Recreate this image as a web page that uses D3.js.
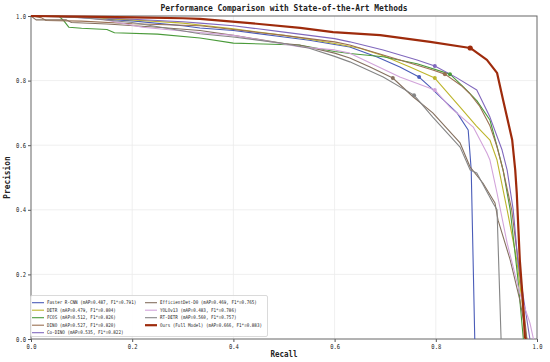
<!DOCTYPE html>
<html>
<head>
<meta charset="utf-8">
<title>PR curves</title>
<script src="https://cdn.jsdelivr.net/npm/d3@7"></script>
<style>
  body { margin: 0; background: #fff; }
  text { font-family: "DejaVu Sans Mono", monospace; fill: #222; }
</style>
</head>
<body>
<div id="chart"></div>
<script>
// method names, legend order
var methods = ["Faster R-CNN", "DETR", "FCOS", "DINO", "Co-DINO",
               "EfficientDet-D0", "YOLOv13", "RT-DETR", "Ours (Full Model)"];
var mAP = [0.487, 0.479, 0.512, 0.527, 0.535, 0.469, 0.483, 0.560, 0.666];
var f1 = [0.791, 0.804, 0.826, 0.820, 0.822, 0.765, 0.786, 0.757, 0.883];
var colors = ["#4a5cb8", "#bdb52c", "#4a9a3a", "#9a7052", "#8068bd",
              "#85705f", "#d2a3da", "#858585", "#9e2b0c"];

// precision-recall points [recall, precision]
var prFaster = [[0,1],[0.04,1],[0.1,0.995],[0.2,0.985],[0.3,0.97],[0.334,0.963],[0.4,0.955],[0.5,0.935],[0.55,0.925],[0.6,0.912],[0.63,0.904],[0.684,0.873],[0.729,0.842],[0.767,0.811],[0.789,0.78],[0.815,0.74],[0.842,0.70],[0.864,0.647],[0.870,0.523],[0.877,0]];
var prDetr = [[0,1],[0.05,1],[0.1,0.996],[0.2,0.988],[0.3,0.978],[0.334,0.972],[0.4,0.96],[0.5,0.94],[0.55,0.928],[0.6,0.915],[0.65,0.9],[0.696,0.877],[0.749,0.842],[0.798,0.808],[0.848,0.718],[0.88,0.66],[0.907,0.616],[0.921,0.554],[0.941,0.40],[0.96,0.245],[0.97,0.121],[0.978,0]];
var prFcos = [[0,1],[0.055,1],[0.065,0.985],[0.075,0.965],[0.1,0.962],[0.15,0.958],[0.165,0.948],[0.25,0.944],[0.334,0.932],[0.4,0.916],[0.53,0.91],[0.6,0.89],[0.63,0.884],[0.696,0.874],[0.763,0.852],[0.828,0.82],[0.855,0.78],[0.881,0.738],[0.907,0.678],[0.923,0.585],[0.933,0.523],[0.947,0.40],[0.962,0.19],[0.973,0]];
var prDino = [[0,1],[0.02,0.995],[0.03,0.986],[0.1,0.984],[0.2,0.976],[0.334,0.97],[0.4,0.958],[0.5,0.94],[0.6,0.92],[0.63,0.91],[0.729,0.864],[0.794,0.833],[0.818,0.82],[0.85,0.785],[0.867,0.76],[0.887,0.72],[0.907,0.66],[0.92,0.60],[0.933,0.523],[0.95,0.40],[0.962,0.25],[0.972,0.12],[0.98,0]];
var prCoDino = [[0,1],[0.1,0.998],[0.2,0.99],[0.3,0.982],[0.334,0.978],[0.4,0.97],[0.5,0.95],[0.6,0.93],[0.63,0.92],[0.696,0.895],[0.763,0.864],[0.798,0.845],[0.84,0.81],[0.881,0.771],[0.907,0.687],[0.931,0.585],[0.941,0.523],[0.953,0.40],[0.962,0.245],[0.975,0.11],[0.986,0]];
var prEffDet = [[0,1],[0.01,0.988],[0.07,0.988],[0.08,0.98],[0.15,0.975],[0.25,0.965],[0.334,0.955],[0.4,0.94],[0.5,0.915],[0.53,0.91],[0.6,0.885],[0.63,0.87],[0.67,0.842],[0.715,0.808],[0.755,0.75],[0.794,0.70],[0.848,0.607],[0.868,0.532],[0.893,0.483],[0.917,0.421],[0.923,0.368],[0.947,0.245],[0.966,0.121],[0.98,0]];
var prYolo = [[0,1],[0.08,0.998],[0.14,0.99],[0.22,0.965],[0.31,0.952],[0.4,0.94],[0.53,0.905],[0.6,0.895],[0.63,0.885],[0.729,0.811],[0.798,0.771],[0.828,0.718],[0.874,0.656],[0.901,0.576],[0.907,0.554],[0.921,0.452],[0.941,0.297],[0.966,0.142],[0.986,0.05],[0.993,0]];
var prRtDetr = [[0,1],[0.1,0.995],[0.2,0.98],[0.334,0.945],[0.4,0.935],[0.5,0.915],[0.55,0.9],[0.6,0.875],[0.63,0.858],[0.696,0.811],[0.757,0.755],[0.794,0.687],[0.848,0.594],[0.868,0.523],[0.881,0.514],[0.913,0.421],[0.921,0.40],[0.929,0]];
var prOurs = [[0,1],[0.1,0.998],[0.2,0.996],[0.3,0.993],[0.334,0.991],[0.433,0.978],[0.532,0.963],[0.597,0.95],[0.69,0.941],[0.789,0.92],[0.868,0.901],[0.901,0.864],[0.921,0.824],[0.933,0.74],[0.951,0.616],[0.957,0.523],[0.96,0.452],[0.966,0.245],[0.972,0.121],[0.976,0.006],[0.978,0]];

// best-F1 operating points (markers)
var bestRecall = [0.767, 0.798, 0.828, 0.818, 0.798, 0.715, 0.798, 0.757, 0.868];
var bestPrec = [0.811, 0.808, 0.820, 0.820, 0.845, 0.808, 0.771, 0.755, 0.901];

var ticks = [0, 0.2, 0.4, 0.6, 0.8, 1.0];

var curves = [prFaster, prDetr, prFcos, prDino, prCoDino, prEffDet, prYolo, prRtDetr, prOurs];

var W = 550, H = 362;
var padL = 31, padR = 537, padT = 16, padB = 339;

var svg = d3.select("#chart").append("svg")
  .attr("width", W).attr("height", H);

var x = d3.scaleLinear().domain([0, 1]).range([padL, padR]);
var y = d3.scaleLinear().domain([0, 1]).range([padB, padT]);

// mono text squeezed to half-width glyphs, like the original font
function label(sel, str, size) {
  return sel.text(str).style("font-size", size + "px")
    .attr("textLength", str.length * size * 0.5)
    .attr("lengthAdjust", "spacingAndGlyphs");
}

// grid
svg.append("g").selectAll("line.gx").data(ticks.slice(1, 5)).enter().append("line")
  .attr("x1", d => x(d)).attr("x2", d => x(d))
  .attr("y1", padT).attr("y2", padB)
  .style("stroke", "#ebebeb").style("stroke-width", 0.8);
svg.append("g").selectAll("line.gy").data(ticks.slice(1, 5)).enter().append("line")
  .attr("y1", d => y(d)).attr("y2", d => y(d))
  .attr("x1", padL).attr("x2", padR)
  .style("stroke", "#ebebeb").style("stroke-width", 0.8);

// axes
var xAxis = svg.append("g").attr("transform", "translate(0," + padB + ")")
  .call(d3.axisBottom(x).tickValues(ticks).tickSize(3).tickFormat(d3.format(".1f")));
var yAxis = svg.append("g").attr("transform", "translate(" + padL + ",0)")
  .call(d3.axisLeft(y).tickValues(ticks).tickSize(3).tickFormat(d3.format(".1f")));
[xAxis, yAxis].forEach(function(a) {
  a.select(".domain").remove();
  a.selectAll(".tick line").style("stroke", "#555");
  a.selectAll(".tick text").each(function() {
    var t = d3.select(this);
    label(t, t.text(), 6.6);
  });
});
xAxis.selectAll(".tick text").attr("dy", "0.9em").attr("y", 4);
yAxis.selectAll(".tick text").attr("x", -5);

// frame
svg.append("rect")
  .attr("x", padL).attr("y", padT)
  .attr("width", padR - padL).attr("height", padB - padT)
  .style("fill", "none").style("stroke", "#666").style("stroke-width", 1);

// curves
svg.append("clipPath").attr("id", "plotclip").append("rect")
  .attr("x", padL).attr("y", padT - 2)
  .attr("width", padR - padL).attr("height", padB - padT + 2);

var line = d3.line().x(d => x(d[0])).y(d => y(d[1]));

svg.append("g").attr("clip-path", "url(#plotclip)")
  .selectAll("path.pr").data(curves).enter().append("path")
  .attr("class", "pr")
  .attr("d", line)
  .style("fill", "none")
  .style("stroke", (d, i) => colors[i])
  .style("stroke-width", (d, i) => i == 8 ? 2.2 : 1.1)
  .style("stroke-linejoin", "round");

// best F1 markers
svg.append("g").selectAll("circle").data(bestRecall).enter().append("circle")
  .attr("cx", d => x(d))
  .attr("cy", (d, i) => y(bestPrec[i]))
  .attr("r", (d, i) => i == 8 ? 2.6 : 2)
  .style("fill", (d, i) => colors[i]);

// title and axis labels
label(svg.append("text").attr("x", (padL + padR) / 2).attr("y", 11)
  .attr("text-anchor", "middle").style("font-weight", "bold"),
  "Performance Comparison with State-of-the-Art Methods", 9.5);
label(svg.append("text").attr("x", (padL + padR) / 2).attr("y", 357)
  .attr("text-anchor", "middle").style("font-weight", "bold"), "Recall", 9);
label(svg.append("text").attr("transform", "translate(10," + (padT + padB) / 2 + ") rotate(-90)")
  .attr("text-anchor", "middle").style("font-weight", "bold"), "Precision", 9.4);

// legend
var legend = svg.append("g");
legend.append("rect")
  .attr("x", 30.5).attr("y", 295.5).attr("width", 237).attr("height", 41)
  .attr("rx", 1.5)
  .style("fill", "#fff").style("fill-opacity", 0.85)
  .style("stroke", "#d0d0d0").style("stroke-width", 0.8);

var items = legend.selectAll("g.item").data(methods).enter().append("g")
  .attr("class", "item")
  .attr("transform", function(d, i) {
    var col = i < 5 ? 0 : 1, row = i < 5 ? i : i - 5;
    return "translate(" + (col ? 145 : 32) + "," + (302.7 + row * 7.5) + ")";
  });
items.append("line")
  .attr("x1", 0).attr("x2", 12).attr("y1", 0).attr("y2", 0)
  .style("stroke", (d, i) => colors[i])
  .style("stroke-width", (d, i) => i == 8 ? 2.2 : 1.1);
items.append("text").attr("x", 15).attr("y", 1.6)
  .each(function(d, i) {
    label(d3.select(this), d + " (mAP=" + mAP[i].toFixed(3) + ", F1*=" + f1[i].toFixed(3) + ")", 5.1);
  });
</script>
</body>
</html>
